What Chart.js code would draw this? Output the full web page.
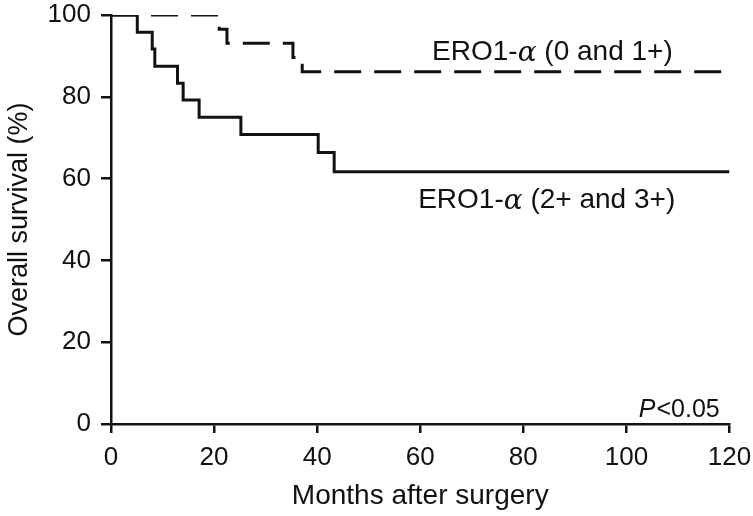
<!DOCTYPE html>
<html>
<head>
<meta charset="utf-8">
<script src="https://cdn.jsdelivr.net/npm/chart.js@4.4.1/dist/chart.umd.min.js"></script>
<style>
  html, body { margin: 0; padding: 0; background: #fff; }
  #wrap { width: 753px; height: 516px; }
</style>
</head>
<body>
<div id="wrap"><canvas id="kmChart"></canvas></div>
<script>
// Kaplan-Meier curves (months, % surviving)
var lowMonths = [0, 21, 22.5, 35.3, 37.1, 120];
var lowSurvival = [100, 96.5, 93.1, 89.6, 86.1, 86.1];
var highMonths = [0, 5.1, 8.0, 8.5, 12.9, 14.0, 17.1, 25.2, 40.2, 43.3, 120];
var highSurvival = [100, 95.8, 91.7, 87.5, 83.3, 79.2, 75.0, 70.8, 66.4, 61.7, 61.7];
var xTicks = [0, 20, 40, 60, 80, 100, 120];
var yTicks = [0, 20, 40, 60, 80, 100];

// text placed on the plot, anchored in data units
var curveLabels = [
  { pre: 'ERO1-', alpha: '\u03b1', post: ' (0 and 1+)', x: 62.3, y: 90.8 },
  { pre: 'ERO1-', alpha: '\u03b1', post: ' (2+ and 3+)', x: 59.6, y: 54.6 }
];

function toPoints(xs, ys) {
  return xs.map(function (x, i) { return { x: x, y: ys[i] }; });
}

var FONT = '"Liberation Sans", Arial, sans-serif';
var INK = '#111';

var annotate = {
  id: 'annotate',
  afterDraw: function (chart) {
    var ctx = chart.ctx, sx = chart.scales.x, sy = chart.scales.y;
    ctx.save();
    ctx.fillStyle = INK;
    ctx.textBaseline = 'middle';
    curveLabels.forEach(function (l) {
      var px = sx.getPixelForValue(l.x), py = sy.getPixelForValue(l.y);
      ctx.font = '28px ' + FONT;
      ctx.fillText(l.pre, px, py);
      px += ctx.measureText(l.pre).width;
      ctx.font = 'italic 28px "DejaVu Serif", serif';
      ctx.fillText(l.alpha, px, py + 1);
      px += ctx.measureText(l.alpha).width;
      ctx.font = '28px ' + FONT;
      ctx.fillText(l.post, px, py);
    });
    // p-value, bottom right
    ctx.textBaseline = 'alphabetic';
    ctx.font = '25px ' + FONT;
    var rest = '<0.05';
    var rx = sx.getPixelForValue(118.1), ry = sy.getPixelForValue(1.7);
    var wRest = ctx.measureText(rest).width;
    ctx.fillText(rest, rx - wRest, ry);
    ctx.font = 'italic 25px ' + FONT;
    var wP = ctx.measureText('P').width;
    ctx.fillText('P', rx - wRest - wP - 1, ry);
    ctx.restore();
  }
};

new Chart(document.getElementById('kmChart'), {
  type: 'line',
  data: {
    datasets: [{
      label: 'ERO1-\u03b1 (2+ and 3+)',
      data: toPoints(highMonths, highSurvival),
      borderColor: INK,
      borderWidth: 3,
      stepped: true,
      pointRadius: 0,
      fill: false
    }, {
      label: 'ERO1-\u03b1 (0 and 1+)',
      data: toPoints(lowMonths, lowSurvival),
      borderColor: INK,
      borderWidth: 3,
      borderDash: [27, 13],
      stepped: true,
      pointRadius: 0,
      fill: false
    }]
  },
  options: {
    responsive: true,
    maintainAspectRatio: false,
    animation: false,
    layout: { padding: { top: 15, right: 23.5, bottom: 0, left: 0 } },
    plugins: { legend: { display: false }, tooltip: { enabled: false } },
    scales: {
      x: {
        type: 'linear',
        min: 0, max: 120,
        afterBuildTicks: function (s) { s.ticks = xTicks.map(function (v) { return { value: v }; }); },
        afterFit: function (s) { s.height = 92; s.paddingLeft = 0; s.paddingRight = 0; },
        grid: { drawOnChartArea: false, drawTicks: true, tickLength: 9, color: INK, lineWidth: 2.5 },
        border: { display: true, color: INK, width: 2.5 },
        ticks: { color: INK, font: { family: FONT, size: 26 }, padding: 9, maxRotation: 0 },
        title: { display: true, text: 'Months after surgery', color: INK, font: { family: FONT, size: 28 }, padding: { top: 0, bottom: 3 } }
      },
      y: {
        min: 0, max: 100,
        afterBuildTicks: function (s) { s.ticks = yTicks.map(function (v) { return { value: v }; }); },
        afterFit: function (s) { s.width = 111; s.paddingTop = 0; s.paddingBottom = 0; },
        grid: { drawOnChartArea: false, drawTicks: true, tickLength: 10, color: INK, lineWidth: 2.5 },
        border: { display: true, color: INK, width: 2.5 },
        ticks: { color: INK, font: { family: FONT, size: 26 }, padding: 10 },
        title: { display: true, text: 'Overall survival (%)', color: INK, font: { family: FONT, size: 27 }, padding: { top: 3, bottom: 0 } }
      }
    }
  },
  plugins: [annotate]
});
</script>
</body>
</html>
